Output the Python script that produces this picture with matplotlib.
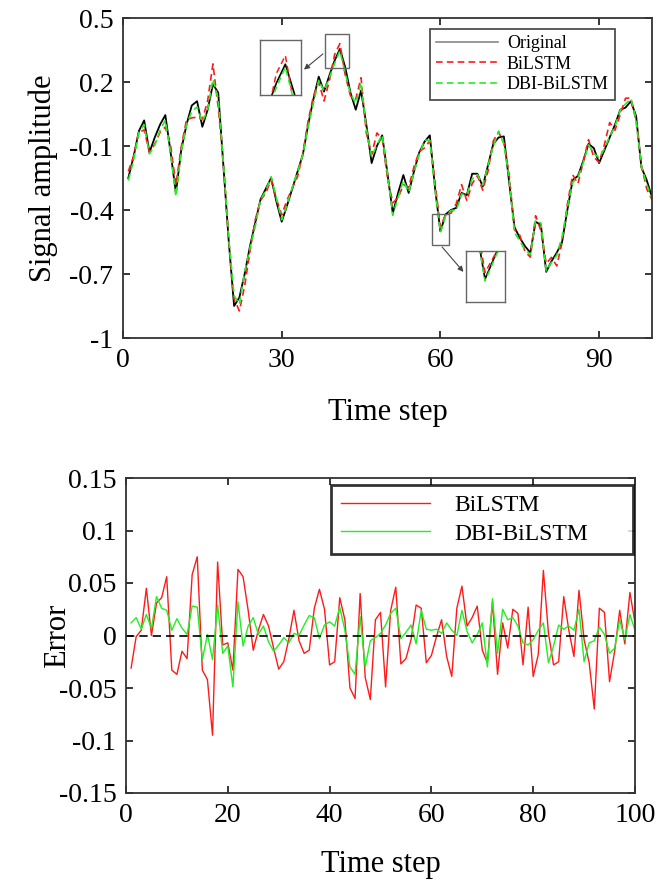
import numpy as np
import matplotlib
matplotlib.use("Agg")
import matplotlib.pyplot as plt
from matplotlib.patches import Rectangle

plt.rcParams['font.family'] = ['Liberation Serif', 'DejaVu Serif']

# ---------------- data ----------------
time_step = np.arange(1, 101)

original = [
    -0.25, -0.15, -0.03, 0.02, -0.13, -0.06, 0.0, 0.045, -0.13, -0.32,
    -0.12, 0.0, 0.09, 0.11, -0.01, 0.07, 0.19, 0.15, -0.2, -0.55,
    -0.85, -0.81, -0.7, -0.57, -0.46, -0.35, -0.3, -0.25, -0.36, -0.455,
    -0.38, -0.3, -0.22, -0.14, 0.0, 0.12, 0.225, 0.155, 0.23, 0.3,
    0.355, 0.27, 0.15, 0.07, 0.16, 0.0, -0.18, -0.1, -0.05, -0.23,
    -0.415, -0.32, -0.236, -0.32, -0.22, -0.13, -0.08, -0.05, -0.3, -0.5,
    -0.42, -0.4, -0.39, -0.32, -0.33, -0.23, -0.23, -0.29, -0.19, -0.09,
    -0.06, -0.055, -0.27, -0.48, -0.53, -0.57, -0.6, -0.455, -0.47, -0.69,
    -0.64, -0.6, -0.55, -0.4, -0.26, -0.24, -0.17, -0.09, -0.11, -0.18,
    -0.12, -0.06, 0.0, 0.07, 0.08, 0.11, 0.04, -0.2, -0.26, -0.34,
]

err_bilstm = [
    -0.031, -0.001, 0.005, 0.045, 0.0, 0.031, 0.036, 0.056, -0.033, -0.037,
    -0.015, -0.022, 0.058, 0.075, -0.033, -0.042, -0.095, 0.070, -0.009, -0.007,
    -0.033, 0.063, 0.056, 0.024, -0.014, 0.005, 0.02, 0.009, -0.012, -0.032,
    -0.025, -0.003, 0.024, -0.005, -0.017, -0.014, 0.026, 0.044, 0.025, -0.028,
    -0.025, 0.036, 0.015, -0.05, -0.06, 0.04, -0.04, -0.061, 0.015, 0.022,
    -0.049, 0.024, 0.046, -0.027, -0.022, -0.004, 0.029, 0.026, -0.026, -0.019,
    -0.001, 0.015, -0.02, -0.039, 0.026, 0.047, 0.009, 0.017, 0.028, -0.014,
    -0.026, 0.032, -0.037, 0.012, -0.012, 0.025, 0.021, -0.028, 0.027, -0.039,
    -0.018, 0.062, 0.002, -0.028, -0.025, 0.037, 0.005, -0.02, 0.043, -0.004,
    -0.026, -0.07, 0.026, 0.022, -0.044, -0.015, 0.024, -0.008, 0.041, 0.012,
]

err_dbi = [
    0.012, 0.017, 0.006, 0.02, 0.007, 0.037, 0.026, 0.024, 0.005, 0.016,
    0.007, 0.001, 0.028, 0.027, -0.023, 0.001, -0.023, 0.029, -0.017, -0.01,
    -0.049, 0.032, -0.01, 0.009, 0.017, 0.001, 0.009, -0.006, -0.015, -0.009,
    -0.002, -0.007, 0.002, 0.0, 0.01, 0.019, 0.017, -0.003, 0.01, 0.013,
    0.009, 0.027, 0.005, -0.03, -0.037, 0.018, -0.03, -0.005, -0.002, 0.002,
    0.01, 0.021, 0.026, -0.003, 0.003, 0.01, -0.008, 0.024, 0.006, 0.005,
    0.006, 0.002, 0.012, 0.005, 0.0, 0.024, 0.004, -0.007, 0.001, 0.012,
    -0.03, 0.035, -0.017, 0.025, 0.015, 0.017, 0.009, -0.007, -0.009, -0.004,
    0.005, 0.012, -0.026, -0.01, 0.01, 0.006, 0.009, 0.005, 0.025, -0.025,
    -0.007, -0.005, 0.008, 0.001, -0.017, -0.012, 0.015, -0.004, 0.02, 0.005,
]

# predictions: error = original - prediction
pred_bilstm = np.array(original) - np.array(err_bilstm)
pred_dbi = np.array(original) - np.array(err_dbi)

top_yticks = [0.5, 0.2, -0.1, -0.4, -0.7, -1]
top_yticklabels = ["0.5", "0.2", "-0.1", "-0.4", "-0.7", "-1"]
top_xticks = [0, 30, 60, 90]
bot_yticks = [0.15, 0.1, 0.05, 0, -0.05, -0.1, -0.15]
bot_yticklabels = ["0.15", "0.1", "0.05", "0", "-0.05", "-0.1", "-0.15"]
bot_xticks = [0, 20, 40, 60, 80, 100]

RED = "#ff1a1a"
GREEN = "#22ee22"

W, H = 657, 881
fig = plt.figure(figsize=(W / 100, H / 100), dpi=100)


def frac(x0, y0, x1, y1):
    return [x0 / W, 1 - y1 / H, (x1 - x0) / W, (y1 - y0) / H]


def style_axes(ax):
    for s in ax.spines.values():
        s.set_linewidth(1.3)
        s.set_color("#333333")
    ax.tick_params(direction="in", top=True, right=True, length=5, width=1.1,
                   labelsize=20, pad=7)


# ---------------- top: signal ----------------
ax1 = fig.add_axes(frac(123, 18, 652, 338))
ax1.plot(time_step, original, color="k", lw=1.3, label="Original")
ax1.plot(time_step, pred_bilstm, color=RED, lw=1.2, ls=(0, (4, 2.5)), label="BiLSTM")
ax1.plot(time_step, pred_dbi, color=GREEN, lw=1.2, ls=(0, (4, 2.5)), label="DBI-BiLSTM")
ax1.set_xlim(0, 100)
ax1.set_ylim(-1, 0.5)
ax1.set_yticks(top_yticks)
ax1.set_yticklabels(top_yticklabels)
ax1.set_xticks(top_xticks)
style_axes(ax1)
ax1.set_xlabel("Time step", fontsize=22, labelpad=18)
ax1.set_ylabel("Signal amplitude", fontsize=22, labelpad=8)
leg1 = ax1.legend(loc="upper right", bbox_to_anchor=(0.93, 0.966), fontsize=13,
                  frameon=True, fancybox=False, edgecolor="#222222",
                  handlelength=3.4, borderpad=0.35, labelspacing=0.2,
                  handletextpad=0.5, borderaxespad=0)
leg1.get_frame().set_linewidth(1.3)
for h in leg1.get_lines():
    h.set_linewidth(1.2)
leg1.get_lines()[0].set_color("#888888")


def add_zoom(src, dst, arrow_from, arrow_to):
    # src: (x0, x1, y0, y1) data window; dst: inset bounds in data coords
    x0, x1, y0, y1 = src
    ax1.add_patch(Rectangle((x0, y0), x1 - x0, y1 - y0, fill=False,
                            edgecolor="#666666", lw=1.0, zorder=5))
    ins = ax1.inset_axes(dst, transform=ax1.transData)
    ins.plot(time_step, original, color="k", lw=1.2)
    ins.plot(time_step, pred_bilstm, color=RED, lw=1.1, ls=(0, (4, 2.5)))
    ins.plot(time_step, pred_dbi, color=GREEN, lw=1.1, ls=(0, (4, 2.5)))
    ins.set_xlim(x0, x1)
    ins.set_ylim(y0, y1)
    ins.set_xticks([])
    ins.set_yticks([])
    for s in ins.spines.values():
        s.set_color("#666666")
        s.set_linewidth(1.0)
    ax1.annotate("", xy=arrow_to, xytext=arrow_from,
                 arrowprops=dict(arrowstyle="-|>", color="#444444", lw=0.8,
                                 mutation_scale=8), zorder=6)


add_zoom((38.2, 42.7, 0.266, 0.425), [25.9, 0.139, 7.7, 0.258],
         (38.2, 0.34), (33.8, 0.25))
add_zoom((58.4, 61.7, -0.564, -0.419), [64.8, -0.83, 7.5, 0.239],
         (60.0, -0.564), (64.7, -0.70))

# ---------------- bottom: error ----------------
ax2 = fig.add_axes(frac(126, 478, 635, 793))
ax2.plot(time_step, err_bilstm, color=RED, lw=1.0, label="BiLSTM")
ax2.plot(time_step, err_dbi, color=GREEN, lw=1.0, label="DBI-BiLSTM")
ax2.axhline(0, color="k", lw=1.2, ls=(0, (5, 3)))
ax2.set_xlim(0, 100)
ax2.set_ylim(-0.15, 0.15)
ax2.set_yticks(bot_yticks)
ax2.set_yticklabels(bot_yticklabels)
ax2.set_xticks(bot_xticks)
style_axes(ax2)
ax2.set_xlabel("Time step", fontsize=22, labelpad=16)
ax2.set_ylabel("Error", fontsize=22, labelpad=-10)
leg2 = ax2.legend(loc="upper left", bbox_to_anchor=(0.403, 0.0, 0.593, 0.978),
                  mode="expand", fontsize=17,
                  frameon=True, fancybox=False, edgecolor="black",
                  handlelength=3.8, borderpad=0.4, labelspacing=0.3,
                  handletextpad=1.0, borderaxespad=0)
leg2.get_frame().set_linewidth(2.0)

fig.savefig("out.png", dpi=100)
